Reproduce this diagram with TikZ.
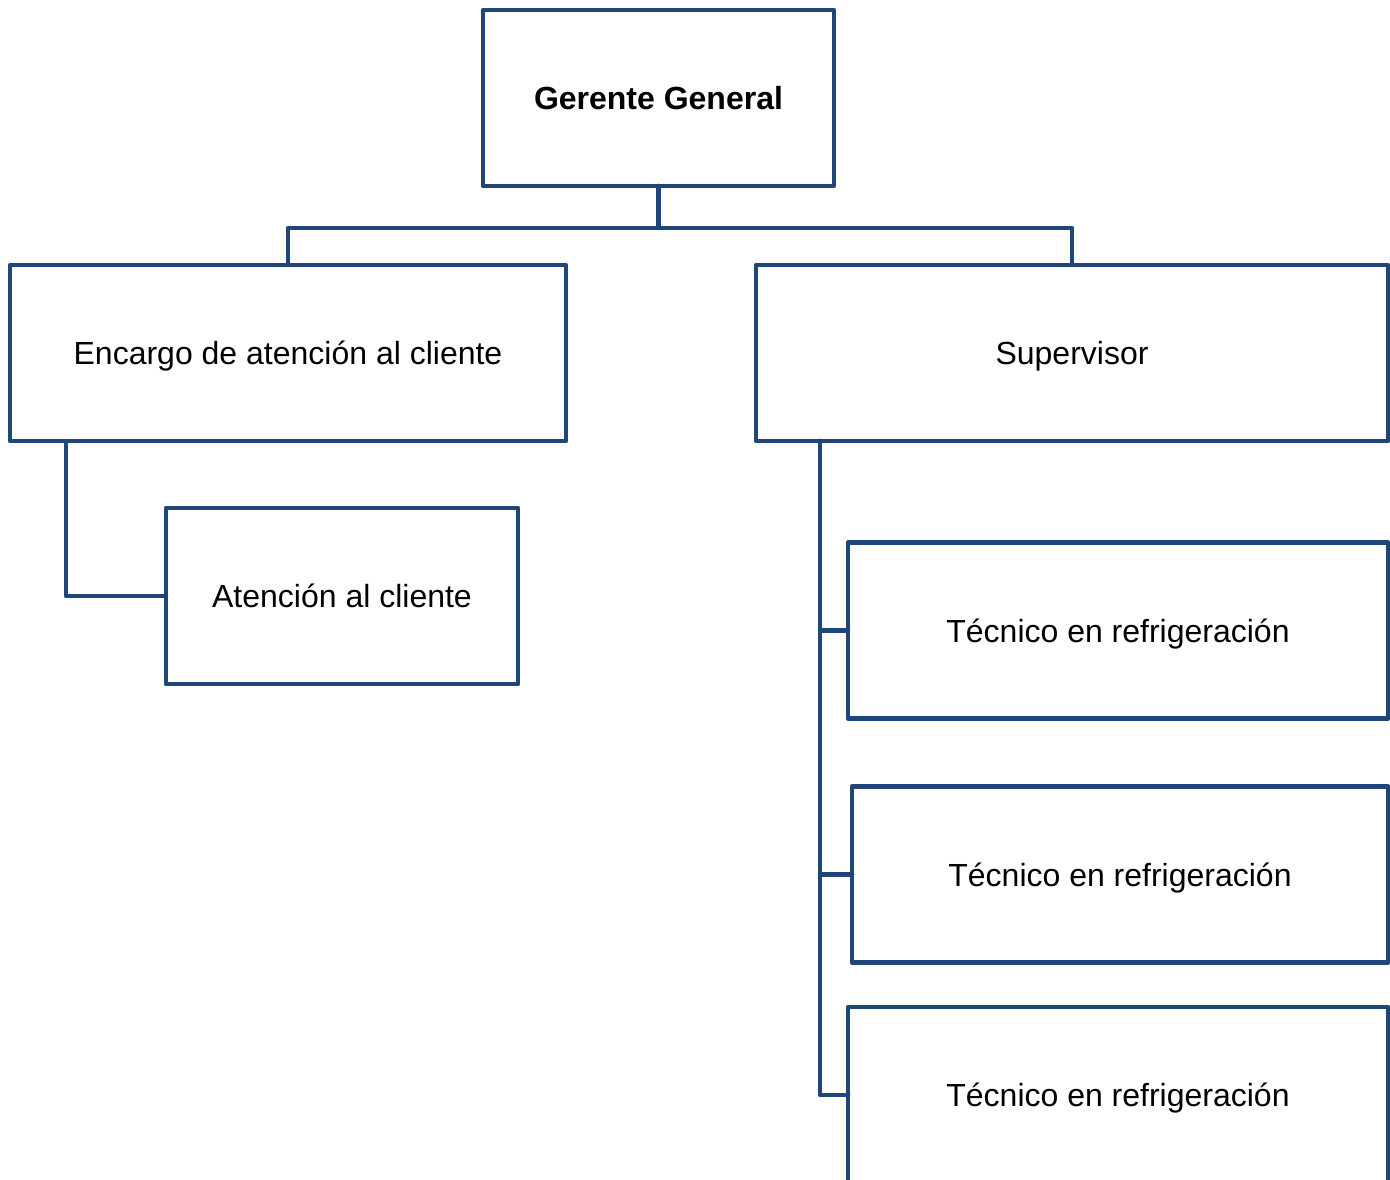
\documentclass[tikz,border=0pt]{standalone}
\usepackage{fontspec}
\setmainfont{Liberation Sans}
\definecolor{orgblue}{RGB}{31,70,120}

\begin{document}
\begin{tikzpicture}[line join=round,line cap=round,x=1pt,y=-1pt]
\tikzset{every node/.style={font=\fontsize{32}{38}\selectfont},
cargo/.style={draw=orgblue,line width=4.5pt,rectangle,inner sep=0pt,outer sep=0pt,minimum height=176pt,text height=23pt,text depth=0pt},
enlace/.style={draw=orgblue,line width=4.5pt}}
\useasboundingbox (0,0) rectangle (1390,1180);
\clip (0,0) rectangle (1390,1180);
\node[cargo,minimum width=351pt] (gg) at (658.5,98) {\bfseries Gerente General};
\node[cargo,minimum width=556pt] (enc) at (288,353) {Encargo de atención al cliente};
\node[cargo,minimum width=632pt] (sup) at (1072,353) {Supervisor};
\node[cargo,minimum width=352pt] (aten) at (342,596) {Atención al cliente};
\node[cargo,minimum width=540pt] (tec1) at (1118,630.5) {Técnico en refrigeración};
\node[cargo,minimum width=536pt] (tec2) at (1120,874.5) {Técnico en refrigeración};
\node[cargo,minimum width=540pt] (tec3) at (1118,1095) {Técnico en refrigeración};
\draw[enlace] (gg.south) -- ++(0,42) -| (enc.north);
\draw[enlace] (gg.south) -- ++(0,42) -| (sup.north);
\draw[enlace] ([xshift=56pt]enc.south west) |- (aten.west);
\foreach \t in {tec1,tec2,tec3}
\draw[enlace] ([xshift=64pt]sup.south west) |- (\t.west);
\end{tikzpicture}
\end{document}
